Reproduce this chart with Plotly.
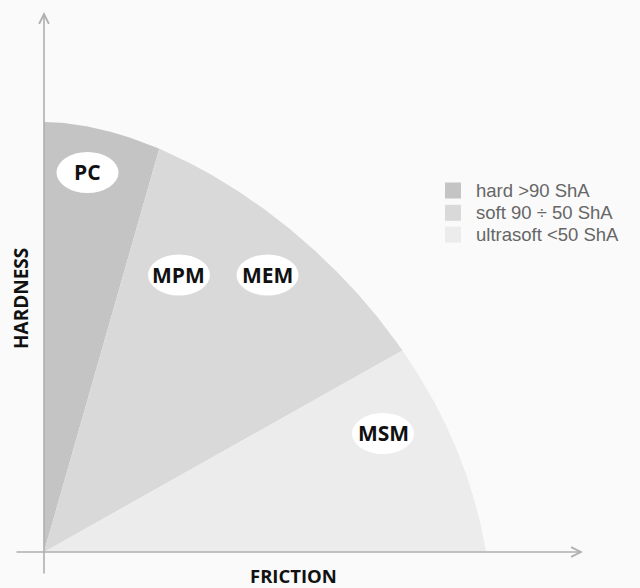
import numpy as np
import plotly.graph_objects as go

# ---------------- data ----------------
categories = ["hard >90 ShA", "soft 90 ÷ 50 ShA", "ultrasoft <50 ShA"]
sector_colors = ["#c4c4c4", "#d9d9d9", "#ececec"]

# points on the envelope where the sectors meet (friction, hardness)
edge_friction = [0.0, 26.2, 80.8, 100.0]
edge_hardness = [100.0, 94.2, 46.7, 0.0]

# envelope curve control points (cubic Bezier), friction / hardness
env_friction = [0.0, 33.9, 90.7, 100.0]
env_hardness = [100.0, 100.0, 58.6, 0.0]

label_names = ["PC", "MPM", "MEM", "MSM"]
label_friction = [9.84, 30.54, 50.57, 76.7]
label_hardness = [88.26, 64.42, 64.42, 27.56]

x_title = "FRICTION"
y_title = "HARDNESS"

# ---------------- geometry ----------------
def bezier(t, p):
    t = np.asarray(t)
    return ((1 - t) ** 3 * p[0] + 3 * (1 - t) ** 2 * t * p[1]
            + 3 * (1 - t) * t ** 2 * p[2] + t ** 3 * p[3])

t_all = np.linspace(0, 1, 2001)
cx_all = bezier(t_all, env_friction)
cy_all = bezier(t_all, env_hardness)
ang_all = np.arctan2(cy_all, cx_all)
edge_ang = np.arctan2(edge_hardness, edge_friction)
t_edges = np.interp(edge_ang, ang_all[::-1], t_all[::-1])

fig = go.Figure()
for i, name in enumerate(categories):
    ts = np.linspace(t_edges[i], t_edges[i + 1], 200)
    xs = np.concatenate([[0.0], bezier(ts, env_friction), [0.0]])
    ys = np.concatenate([[0.0], bezier(ts, env_hardness), [0.0]])
    fig.add_trace(go.Scatter(x=xs, y=ys, fill="toself", mode="lines",
                             line=dict(width=0, color=sector_colors[i]),
                             fillcolor=sector_colors[i], name=name,
                             showlegend=False, hoverinfo="skip"))

# ---------------- layout helpers ----------------
W, H = 640, 588
OX, OY = 44, 552          # pixel position of origin
SX, SY = 4.42, 4.30       # pixels per data unit
xr = [-OX / SX, (W - OX) / SX]
yr = [(OY - H) / SY, OY / SY]

ELL_W, ELL_H = 62 / SX, 41 / SY
shapes = []
annotations = []
for n, fx, hy in zip(label_names, label_friction, label_hardness):
    shapes.append(dict(type="circle", xref="x", yref="y",
                       x0=fx - ELL_W / 2, x1=fx + ELL_W / 2,
                       y0=hy - ELL_H / 2, y1=hy + ELL_H / 2,
                       fillcolor="#ffffff", line=dict(width=0), layer="above"))
    annotations.append(dict(x=fx, y=hy, xref="x", yref="y", text="<b>%s</b>" % n,
                            showarrow=False, xanchor="center", yanchor="middle",
                            font=dict(family="Open Sans", size=21, color="#111111")))

axis_col = "#b0b0b0"
# x axis arrow
annotations.append(dict(x=(583 - OX) / SX, y=0, ax=(15 - OX) / SX, ay=0,
                        xref="x", yref="y", axref="x", ayref="y", text="",
                        showarrow=True, arrowhead=5, arrowwidth=1.6, arrowsize=1.2,
                        arrowcolor=axis_col))
# y axis arrow
annotations.append(dict(x=0, y=(OY - 12) / SY, ax=0, ay=(OY - 575) / SY,
                        xref="x", yref="y", axref="x", ayref="y", text="",
                        showarrow=True, arrowhead=5, arrowwidth=1.6, arrowsize=1.2,
                        arrowcolor=axis_col))

annotations.append(dict(x=293 / W, y=1 - 575.5 / H, xref="paper", yref="paper",
                        xanchor="center", yanchor="middle", borderpad=0,
                        text="<b>%s</b>" % x_title, showarrow=False,
                        font=dict(family="Open Sans", size=18.5, color="#111111")))
annotations.append(dict(x=21 / W, y=1 - 299 / H, xref="paper", yref="paper",
                        xanchor="center", yanchor="middle",
                        text="<b>%s</b>" % y_title, showarrow=False, textangle=-90,
                        font=dict(family="Open Sans", size=19, color="#111111")))

# manual legend
leg_y = [190.5, 212.8, 234.7]
for name, col, py in zip(categories, sector_colors, leg_y):
    shapes.append(dict(type="rect", xref="paper", yref="paper",
                       x0=445 / W, x1=461 / W, y0=1 - (py + 8) / H, y1=1 - (py - 8) / H,
                       fillcolor=col, line=dict(width=0)))
    annotations.append(dict(x=474 / W, y=1 - py / H, xref="paper", yref="paper",
                            text=name, showarrow=False, xanchor="left", yanchor="middle",
                            font=dict(family="Liberation Sans", size=18.5, color="#666666")))

fig.update_layout(
    width=W, height=H,
    margin=dict(l=0, r=0, t=0, b=0),
    paper_bgcolor="#fafafa", plot_bgcolor="#fafafa",
    xaxis=dict(range=xr, visible=False, fixedrange=True),
    yaxis=dict(range=yr, visible=False, fixedrange=True),
    shapes=shapes, annotations=annotations,
    showlegend=False,
)

fig.write_html("out.html", config={"displayModeBar": False},
               post_script="document.body.style.margin='0';"
                           "document.body.style.background='#fafafa';"
                           "document.body.style.overflow='hidden';")
